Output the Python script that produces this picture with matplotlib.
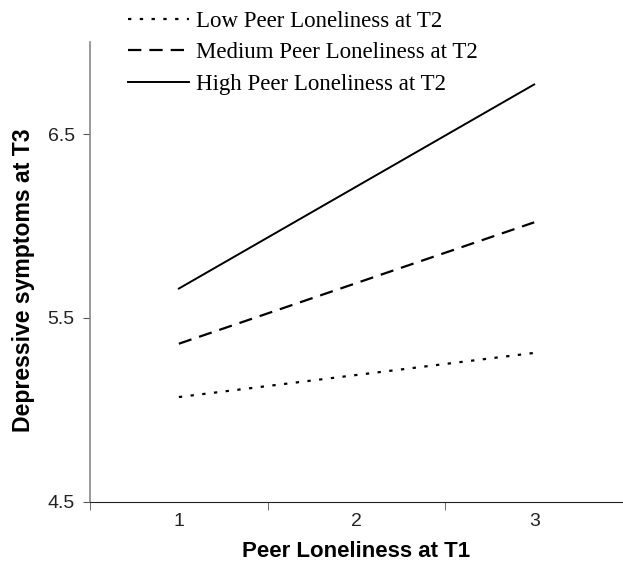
import matplotlib
matplotlib.use("Agg")
import matplotlib.pyplot as plt

x_vals = [1, 3]
low = [5.07, 5.31]
medium = [5.36, 6.02]
high = [5.66, 6.77]
series_labels = ["Low Peer Loneliness at T2", "Medium Peer Loneliness at T2", "High Peer Loneliness at T2"]
x_ticklabels = ["1", "2", "3"]
y_ticks = [4.5, 5.5, 6.5]

fig = plt.figure(figsize=(6.23, 5.62), dpi=100)
ax = fig.add_axes([0.1445, 0.107, 0.8555, 0.818])

l1, = ax.plot(x_vals, low, color="black", lw=1.6, linestyle=(0, (1.5, 3.8)))
l2, = ax.plot(x_vals, medium, color="black", lw=1.6, linestyle=(0, (6.0, 3.6)))
l3, = ax.plot(x_vals, high, color="black", lw=1.4, linestyle="-")

ax.set_xlim(0.5, 3.5)
ax.set_ylim(4.5, 7.0)
ax.set_yticks(y_ticks)
ax.set_yticklabels([f"{v:.1f}" for v in y_ticks], fontsize=14, family="Liberation Sans", color="#222222")
ax.set_xticks([1, 2, 3])
ax.set_xticklabels(x_ticklabels, fontsize=14, family="Liberation Sans", color="#222222")
ax.tick_params(axis="x", length=0, pad=8)
ax.set_xticks([0.5, 1.5, 2.5, 3.5], minor=True)
ax.tick_params(axis="x", which="minor", length=6, direction="out", color="#555555")
ax.tick_params(axis="y", length=5, direction="out", color="#555555", pad=6)

for s in ["top", "right"]:
    ax.spines[s].set_visible(False)
ax.spines["left"].set_color("#888888")
ax.spines["left"].set_linewidth(1.2)
ax.spines["bottom"].set_color("#222222")

ax.set_xlabel("Peer Loneliness at T1", fontsize=16, fontweight="bold", family="Liberation Sans", labelpad=8)
ax.set_ylabel("Depressive symptoms at T3", fontsize=16.6, fontweight="bold", family="Liberation Sans")
ax.yaxis.set_label_coords(-0.1025, 0.483)

fig.legend([l1, l2, l3], series_labels, loc="upper left", bbox_to_anchor=(0.19, 0.997),
           frameon=False, prop={"family": "Liberation Serif", "size": 16.5},
           handlelength=2.7, handletextpad=0.3, labelspacing=0.46, borderaxespad=0)

fig.savefig("out.png", dpi=100)
